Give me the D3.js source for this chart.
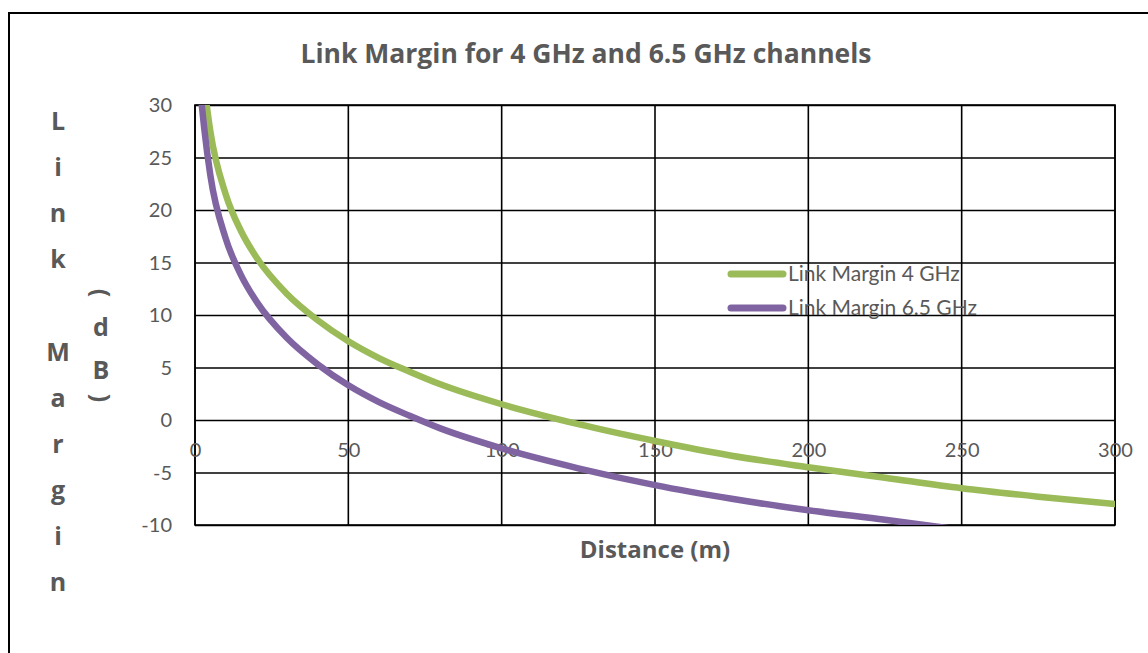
<!DOCTYPE html>
<html>
<head>
<meta charset="utf-8">
<script src="https://cdn.jsdelivr.net/npm/d3@7"></script>
<style>
  body { margin: 0; background: #fff; }
  svg text { font-family: Lato, "Open Sans", sans-serif; fill: #595959; }
  svg text.bold { font-family: "Open Sans", Lato, sans-serif; font-weight: bold; }
</style>
</head>
<body>
<div id="chart"></div>
<script>
// values
var xTicks = [0, 50, 100, 150, 200, 250, 300];
var yTicks = [30, 25, 20, 15, 10, 5, 0, -5, -10];

var distance4 = [3.8, 5, 10, 15, 20, 30, 40, 50, 60, 70, 80, 100, 125, 150, 175, 200, 225, 250, 275, 300];
var margin4 = [30, 27.5, 21.5, 18.0, 15.5, 12.0, 9.5, 7.5, 5.9, 4.6, 3.4, 1.5, -0.4, -2.0, -3.4, -4.5, -5.5, -6.5, -7.3, -8.0];

var distance65 = [2.2, 3, 5, 10, 15, 20, 30, 40, 50, 60, 70, 80, 100, 125, 150, 175, 200, 225, 247];
var margin65 = [30, 27.8, 23.3, 17.3, 13.8, 11.3, 7.8, 5.3, 3.3, 1.7, 0.4, -0.8, -2.7, -4.6, -6.2, -7.5, -8.6, -9.5, -10.35];

var seriesNames = ['Link Margin 4 GHz', 'Link Margin 6.5 GHz'];
var seriesColors = ['#9bbb59', '#8064a2'];

var width = 1148, height = 653;
var plotLeft = 195, plotRight = 1115, plotTop = 105, plotBottom = 525;

var svg = d3.select('#chart').append('svg')
    .attr('width', width)
    .attr('height', height);

// outer frame
svg.append('rect')
    .attr('x', 9).attr('y', 13)
    .attr('width', 1160).attr('height', 700)
    .style('fill', 'none')
    .style('stroke', '#000')
    .style('stroke-width', 2);

var x = d3.scaleLinear().domain([0, 300]).range([plotLeft, plotRight]);
var y = d3.scaleLinear().domain([-10, 30]).range([plotBottom, plotTop]);

// horizontal grid + y labels
var yAxis = svg.append('g')
    .attr('transform', 'translate(' + plotLeft + ',0)')
    .call(d3.axisLeft(y).tickValues(yTicks).tickSize(-(plotRight - plotLeft)).tickPadding(23)
        .tickFormat(function (d) { return String(d); }));
yAxis.select('.domain').remove();
yAxis.selectAll('line').style('stroke', '#000').style('stroke-width', 1.6);
yAxis.selectAll('text').style('font-size', '20px').attr('dy', '0.34em');

// vertical grid
svg.append('g').selectAll('line')
    .data(xTicks)
    .enter().append('line')
    .attr('x1', function (d) { return x(d); })
    .attr('x2', function (d) { return x(d); })
    .attr('y1', plotTop)
    .attr('y2', plotBottom)
    .style('stroke', '#000')
    .style('stroke-width', 1.6);

// plot border
svg.append('rect')
    .attr('x', plotLeft).attr('y', plotTop)
    .attr('width', plotRight - plotLeft).attr('height', plotBottom - plotTop)
    .style('fill', 'none').style('stroke', '#000').style('stroke-width', 1.6);

// x labels sit on the zero line
var xAxis = svg.append('g')
    .attr('transform', 'translate(0,' + y(0) + ')')
    .call(d3.axisBottom(x).tickValues(xTicks).tickSize(0).tickPadding(23));
xAxis.select('.domain').remove();
xAxis.selectAll('text').style('font-size', '20px');

// lines
svg.append('clipPath').attr('id', 'plot-clip')
    .append('rect')
    .attr('x', plotLeft).attr('y', plotTop)
    .attr('width', plotRight - plotLeft).attr('height', plotBottom - plotTop);

var line = d3.line()
    .x(function (d) { return x(d[0]); })
    .y(function (d) { return y(d[1]); })
    .curve(d3.curveMonotoneX);

var series = [
    d3.zip(distance4, margin4),
    d3.zip(distance65, margin65)
];

svg.append('g').attr('clip-path', 'url(#plot-clip)')
    .selectAll('path')
    .data(series)
    .enter().append('path')
    .attr('d', line)
    .style('fill', 'none')
    .style('stroke', function (d, i) { return seriesColors[i]; })
    .style('stroke-width', 6.5)
    .style('stroke-linecap', 'round');

// legend
var legend = svg.append('g').selectAll('g')
    .data(seriesNames)
    .enter().append('g')
    .attr('transform', function (d, i) { return 'translate(731,' + (274 + i * 34) + ')'; });

legend.append('line')
    .attr('x1', 0).attr('x2', 52)
    .style('stroke', function (d, i) { return seriesColors[i]; })
    .style('stroke-width', 7)
    .style('stroke-linecap', 'round');

legend.append('text')
    .attr('x', 57)
    .attr('dy', '0.35em')
    .style('font-size', '21px')
    .text(function (d) { return d; });

// title
svg.append('text')
    .attr('class', 'bold')
    .attr('x', 586).attr('y', 63)
    .attr('text-anchor', 'middle')
    .style('font-size', '26.5px')
    .text('Link Margin for 4 GHz and 6.5 GHz channels');

// x title
svg.append('text')
    .attr('class', 'bold')
    .attr('x', (plotLeft + plotRight) / 2).attr('y', 558)
    .attr('text-anchor', 'middle')
    .style('font-size', '24px')
    .text('Distance (m)');

// y title, stacked letters
var yTitle = 'Link Margin'.split('');
svg.append('g').selectAll('text')
    .data(yTitle)
    .enter().append('text')
    .attr('class', 'bold')
    .attr('x', 58)
    .attr('y', function (d, i) { return 121 + i * 46.1; })
    .attr('dy', '0.36em')
    .attr('text-anchor', 'middle')
    .style('font-size', '25px')
    .text(function (d) { return d; });

var unit = [['(', 293, true], ['d', 327, false], ['B', 370, false], [')', 398, true]];
svg.append('g').selectAll('text')
    .data(unit)
    .enter().append('text')
    .attr('class', 'bold')
    .attr('text-anchor', 'middle')
    .attr('dy', '0.36em')
    .attr('transform', function (d) {
        return 'translate(101,' + d[1] + ')' + (d[2] ? ' rotate(90)' : '');
    })
    .style('font-size', '25px')
    .text(function (d) { return d[0]; });
</script>
</body>
</html>
